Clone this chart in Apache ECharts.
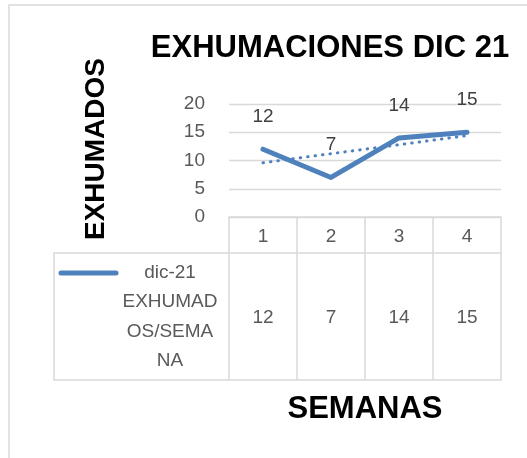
<!DOCTYPE html>
<html>
<head>
<meta charset="utf-8">
<title>EXHUMACIONES DIC 21</title>
<script src="https://cdn.jsdelivr.net/npm/echarts@6/dist/echarts.min.js"></script>
<style>
  html, body { margin: 0; padding: 0; background: #ffffff; }
  #chart { width: 527px; height: 458px; }
</style>
</head>
<body>
<div id="chart"></div>
<script>
// Weekly exhumations, December 2021
const weeks = ['1', '2', '3', '4'];
const exhumed = [12, 7, 14, 15];
// Linear trend line values at each week
const trend = [9.6, 11.2, 12.8, 14.4];
const yTicks = [0, 5, 10, 15, 20];
const seriesLabelLines = ['dic-21', 'EXHUMAD', 'OS/SEMA', 'NA'];

const FONT = '"Liberation Sans", Arial, sans-serif';
const BLUE = '#4f81bd';
const GRID = '#d9d9d9';

const chart = echarts.init(document.getElementById('chart'), null, { renderer: 'canvas' });

chart.setOption({
  animation: false,
  backgroundColor: '#ffffff',
  title: {
    text: 'EXHUMACIONES DIC 21',
    left: 325,
    top: 28,
    textAlign: 'center',
    textStyle: { fontFamily: FONT, fontWeight: 'bold', fontSize: 31, color: '#000000' }
  },
  grid: { left: 229, right: 26, top: 104, bottom: 241 },
  xAxis: [
    {
      // header row of the data table
      type: 'category',
      data: weeks,
      boundaryGap: true,
      position: 'bottom',
      axisLine: { show: true, lineStyle: { color: GRID, width: 1.5 } },
      axisTick: { show: true, interval: 0, length: 36, lineStyle: { color: GRID, width: 1.5 } },
      axisLabel: { margin: 10, fontFamily: FONT, fontSize: 19, color: '#595959' },
      splitLine: { show: false }
    },
    {
      // value row of the data table
      type: 'category',
      data: weeks,
      boundaryGap: true,
      position: 'bottom',
      offset: 36,
      axisLine: { show: true, lineStyle: { color: GRID, width: 1.5 } },
      axisTick: { show: true, interval: 0, length: 127, lineStyle: { color: GRID, width: 1.5 } },
      axisLabel: {
        margin: 55,
        fontFamily: FONT, fontSize: 19, color: '#595959',
        formatter: (v, i) => String(exhumed[i])
      }
    },
    {
      // bottom edge of the table and the axis title
      type: 'category',
      data: weeks,
      boundaryGap: true,
      position: 'bottom',
      offset: 163,
      axisLine: { show: true, lineStyle: { color: GRID, width: 1.5 } },
      axisTick: { show: false },
      axisLabel: { show: false },
      name: 'SEMANAS',
      nameLocation: 'middle',
      nameGap: 14,
      nameTextStyle: { fontFamily: FONT, fontWeight: 'bold', fontSize: 31, color: '#000000', verticalAlign: 'top' }
    }
  ],
  yAxis: {
    type: 'value',
    min: yTicks[0],
    max: yTicks[yTicks.length - 1],
    interval: yTicks[1] - yTicks[0],
    axisLine: { show: false },
    axisTick: { show: false },
    axisLabel: { margin: 24, fontFamily: FONT, fontSize: 19, color: '#595959' },
    splitLine: { show: true, lineStyle: { color: GRID, width: 1.3 } }
  },
  series: [
    {
      name: 'dic-21 EXHUMADOS/SEMANA',
      type: 'line',
      data: exhumed,
      showSymbol: true,
      symbol: 'circle',
      symbolSize: 2,
      itemStyle: { color: BLUE, borderWidth: 0 },
      lineStyle: { color: BLUE, width: 5, cap: 'round', join: 'round' },
      label: {
        show: true,
        position: 'top',
        distance: 22,
        fontFamily: FONT, fontSize: 19, color: '#404040'
      },
      z: 3
    },
    {
      name: 'Lineal',
      type: 'line',
      data: trend,
      showSymbol: false,
      symbol: 'none',
      lineStyle: { color: BLUE, width: 3, type: [0.5, 7], cap: 'round' },
      z: 2
    }
  ],
  graphic: [
    // chart area frame
    {
      type: 'polyline',
      shape: { points: [[9, 458], [9, 5], [527, 5]] },
      style: { stroke: GRID, lineWidth: 1.5, fill: null },
      silent: true
    },
    // left cell of the data table
    {
      type: 'polyline',
      shape: { points: [[229, 253], [54, 253], [54, 380], [229, 380]] },
      style: { stroke: GRID, lineWidth: 1.5, fill: null },
      silent: true
    },
    // legend key
    {
      type: 'line',
      shape: { x1: 61, y1: 273, x2: 116, y2: 273 },
      style: { stroke: BLUE, lineWidth: 5, lineCap: 'round' },
      silent: true
    },
    {
      type: 'text',
      x: 170,
      y: 258,
      style: {
        text: seriesLabelLines.join('\n'),
        font: '19px ' + FONT,
        fill: '#595959',
        textAlign: 'center',
        textVerticalAlign: 'top',
        lineHeight: 29.5
      },
      silent: true
    },
    // vertical axis title
    {
      type: 'text',
      x: 96,
      y: 149,
      rotation: Math.PI / 2,
      style: {
        text: 'EXHUMADOS',
        font: 'bold 28px ' + FONT,
        fill: '#000000',
        textAlign: 'center',
        textVerticalAlign: 'middle'
      },
      silent: true
    }
  ]
});
</script>
</body>
</html>
